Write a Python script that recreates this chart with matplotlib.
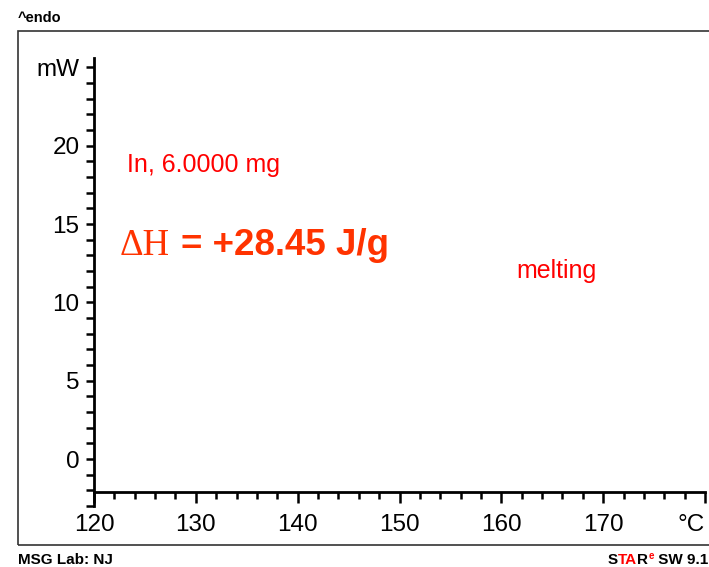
import matplotlib
matplotlib.use("Agg")
import matplotlib.pyplot as plt
from matplotlib.patches import Rectangle
from matplotlib.ticker import FixedLocator, MultipleLocator

# axis ticks and labels
x_ticks = [120, 130, 140, 150, 160, 170, 180]
x_labels = ["120", "130", "140", "150", "160", "170", "°C"]
y_ticks = [0, 5, 10, 15, 20, 25]
y_labels = ["0", "5", "10", "15", "20", "mW"]

# annotations (text, x, y)
sample_label = ("In, 6.0000 mg", 123.2, 18.8)
enthalpy_label = ("= +28.45 J/g", 128.5, 13.6)
delta_h_pos = (122.5, 13.6)
event_label = ("melting", 161.5, 12.0)

W, H = 709, 567
fig = plt.figure(figsize=(W / 100, H / 100), dpi=100)
plt.rcParams["font.family"] = ["Liberation Sans", "DejaVu Sans"]

# outer frame
fig.add_artist(Rectangle((18 / W, 22 / H), 720 / W, 514 / H, transform=fig.transFigure,
                         fill=False, edgecolor="#333333", lw=1.2, clip_on=False))

ax = fig.add_axes([94 / W, 61 / H, 611 / W, 448 / H])
ax.set_xlim(120, 180)
ax.set_ylim(-3, 25.6)

for s in ["top", "right"]:
    ax.spines[s].set_visible(False)
ax.spines["left"].set_linewidth(2)
ax.spines["bottom"].set_linewidth(2)
ax.spines["bottom"].set_position(("data", -2.1))

ax.xaxis.set_major_locator(FixedLocator(x_ticks))
ax.set_xticklabels(x_labels)
ax.xaxis.set_minor_locator(MultipleLocator(2))
ax.yaxis.set_major_locator(FixedLocator(y_ticks))
ax.set_yticklabels(y_labels)
ax.yaxis.set_minor_locator(MultipleLocator(1))

ax.tick_params(axis="x", which="major", direction="out", length=8, width=1.8, pad=8, labelsize=17.5)
ax.tick_params(axis="x", which="minor", direction="out", length=5, width=1.8)
ax.tick_params(axis="y", which="both", direction="out", length=6, width=1.8, pad=4.5, labelsize=17.5)
ax.get_xticklabels()[-1].set_horizontalalignment("right")

ax.text(sample_label[1], sample_label[2], sample_label[0], color="#ff0000",
        fontsize=18, va="center", ha="left")
ax.text(delta_h_pos[0], delta_h_pos[1], "ΔH", color="#ff3300", fontsize=26.5,
        family=["Liberation Serif", "DejaVu Serif"], va="center", ha="left")
ax.text(enthalpy_label[1], enthalpy_label[2], enthalpy_label[0], color="#ff3300",
        fontsize=26.5, fontweight="bold", va="center", ha="left")
ax.text(event_label[1], event_label[2], event_label[0], color="#ff0000",
        fontsize=18, va="center", ha="left")

# header / footer
fig.text(18 / W, 1 - 18 / H, "^endo", fontsize=10.5, fontweight="bold", va="center", ha="left")
fig.text(18 / W, 1 - 560 / H, "MSG Lab: NJ", fontsize=11, fontweight="bold", va="center", ha="left")

renderer = fig.canvas.get_renderer()
footer = [("S", "black", 11, 0), ("TA", "#ff0000", 11, 0), ("R", "black", 11, 0),
          ("e", "#ff0000", 7, 4), (" SW 9.1", "black", 11, 0)]
x0 = 608
for t, c, fs, dy in footer:
    txt = fig.text(x0 / W, (H - 560 + dy) / H, t, fontsize=fs, fontweight="bold",
                   color=c, va="center", ha="left")
    x0 += txt.get_window_extent(renderer).width

fig.savefig("out.png", dpi=100)
